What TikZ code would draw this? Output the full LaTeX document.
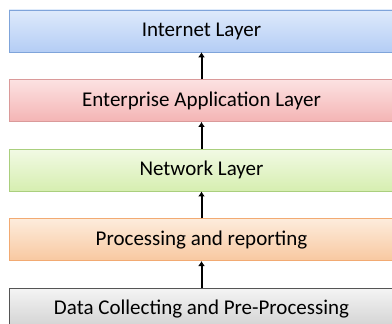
\documentclass[tikz,border=0pt]{standalone}
\usepackage{fontspec}
\setmainfont{Carlito}
\usetikzlibrary{positioning, arrows.meta}

\definecolor{blueedge}{HTML}{7FA4DA}
\definecolor{rededge}{HTML}{DA9A9A}
\definecolor{greenedge}{HTML}{AACF7E}
\definecolor{orangeedge}{HTML}{F2AA72}
\definecolor{grayedge}{HTML}{555555}

\tikzset{
  layer/.style={draw, line width=0.6pt, minimum width=385pt, minimum height=42pt,
    inner sep=0pt, font=\fontsize{21}{24}\selectfont},
  uparrow/.style={-{Latex[length=5pt,width=7pt]}, line width=2pt},
}

\begin{document}
\begin{tikzpicture}[node distance=27pt]
    \useasboundingbox (0,0) rectangle (392pt,324pt);
    \node[layer, draw=blueedge, top color={rgb,255:red,222;green,234;blue,251}, bottom color={rgb,255:red,180;green,205;blue,245}] (inet) at (201.5pt,293pt) {Internet Layer};
    \node[layer, below=of inet, draw=rededge, top color={rgb,255:red,252;green,226;blue,226}, bottom color={rgb,255:red,244;green,180;blue,180}] (enterprise) {Enterprise Application Layer};
    \node[layer, below=of enterprise, draw=greenedge, top color={rgb,255:red,242;green,250;blue,228}, bottom color={rgb,255:red,214;green,238;blue,176}] (network) {Network Layer};
    \node[layer, below=of network, draw=orangeedge, top color={rgb,255:red,253;green,236;blue,220}, bottom color={rgb,255:red,248;green,200;blue,160}] (processing) {Processing and reporting};
    \node[layer, below=of processing, draw=grayedge, top color={rgb,255:red,244;green,244;blue,244}, bottom color={rgb,255:red,208;green,208;blue,208}] (datacoll) {Data Collecting and Pre-Processing};
    % arrows between the layers
    \draw[uparrow] (datacoll.north) -- (processing.south);
    \draw[uparrow] (processing.north) -- (network.south);
    \draw[uparrow] (network.north) -- (enterprise.south);
    \draw[uparrow] (enterprise.north) -- (inet.south);
\end{tikzpicture}
\end{document}
